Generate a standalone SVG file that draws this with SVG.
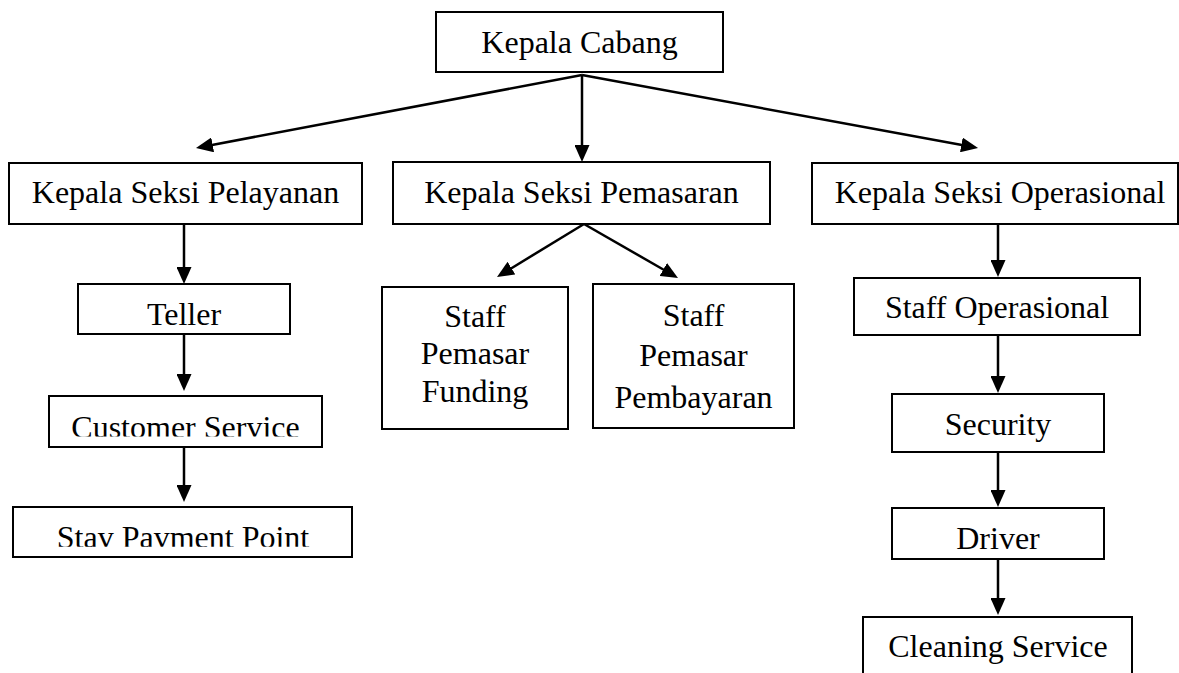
<svg xmlns="http://www.w3.org/2000/svg" width="1179" height="673" viewBox="0 0 1179 673">
<style>
.box{fill:#fff;stroke:#000;stroke-width:2}
.t{font-family:"Liberation Serif","Times New Roman",serif;font-size:32px;fill:#000;text-anchor:middle}
.c{fill:none;stroke:#000;stroke-width:2.5}
</style>
<defs>
<marker id="ah" viewBox="0 0 17 15" refX="2" refY="7.5" markerWidth="17" markerHeight="15" markerUnits="userSpaceOnUse" orient="auto">
<path d="M0,0 L17,7.5 L0,15 z" fill="#000"/>
</marker>
<clipPath id="clipCS"><rect x="49" y="396" width="273" height="40.5"/></clipPath>
<clipPath id="clipSP"><rect x="13" y="507" width="339" height="39.7"/></clipPath>
</defs>
<rect width="1179" height="673" fill="#fff"/>
<g id="connectors">
<path class="c" d="M582,75 L210.7,145.2" marker-end="url(#ah)"/>
<path class="c" d="M582,75 L582,147" marker-end="url(#ah)"/>
<path class="c" d="M582,75 L963.3,145.3" marker-end="url(#ah)"/>
<path class="c" d="M184,224 L184,269" marker-end="url(#ah)"/>
<path class="c" d="M184,334 L184,376" marker-end="url(#ah)"/>
<path class="c" d="M184,447 L184,487" marker-end="url(#ah)"/>
<path class="c" d="M584,224 L509.8,269.2" marker-end="url(#ah)"/>
<path class="c" d="M584,224 L665,270.5" marker-end="url(#ah)"/>
<path class="c" d="M998,224 L998,262" marker-end="url(#ah)"/>
<path class="c" d="M998,335 L998,378" marker-end="url(#ah)"/>
<path class="c" d="M998,452 L998,492" marker-end="url(#ah)"/>
<path class="c" d="M998,559 L998,600" marker-end="url(#ah)"/>
</g>
<g id="kepala-cabang">
<rect class="box" x="436" y="12" width="287" height="60"/>
<text class="t" x="579.5" y="53">Kepala Cabang</text>
</g>
<g id="ks-pelayanan">
<rect class="box" x="9" y="163" width="353" height="61"/>
<text class="t" x="185.5" y="203">Kepala Seksi Pelayanan</text>
</g>
<g id="ks-pemasaran">
<rect class="box" x="393" y="162" width="377" height="62"/>
<text class="t" x="581.5" y="203">Kepala Seksi Pemasaran</text>
</g>
<g id="ks-operasional">
<rect class="box" x="812" y="163" width="366" height="61"/>
<text class="t" x="1000" y="203">Kepala Seksi Operasional</text>
</g>
<g id="teller">
<rect class="box" x="78" y="284" width="212" height="50"/>
<text class="t" x="184" y="325">Teller</text>
</g>
<g id="customer-service">
<rect class="box" x="49" y="396" width="273" height="51"/>
<text class="t" x="185.5" y="438" clip-path="url(#clipCS)">Customer Service</text>
</g>
<g id="stay-payment-point">
<rect class="box" x="13" y="507" width="339" height="50"/>
<text class="t" x="183" y="548" clip-path="url(#clipSP)">Stav Pavment Point</text>
</g>
<g id="staff-pemasar-funding">
<rect class="box" x="382" y="287" width="186" height="142"/>
<text class="t" x="475" y="327">Staff</text>
<text class="t" x="475" y="364">Pemasar</text>
<text class="t" x="475" y="402">Funding</text>
</g>
<g id="staff-pemasar-pembayaran">
<rect class="box" x="593" y="284" width="201" height="144"/>
<text class="t" x="693.5" y="326">Staff</text>
<text class="t" x="693.5" y="366">Pemasar</text>
<text class="t" x="693.5" y="408">Pembayaran</text>
</g>
<g id="staff-operasional">
<rect class="box" x="854" y="278" width="286" height="57"/>
<text class="t" x="997" y="318">Staff Operasional</text>
</g>
<g id="security">
<rect class="box" x="892" y="394" width="212" height="58"/>
<text class="t" x="998" y="435">Security</text>
</g>
<g id="driver">
<rect class="box" x="892" y="508" width="212" height="51"/>
<text class="t" x="998" y="549">Driver</text>
</g>
<g id="cleaning-service">
<rect class="box" x="863" y="617" width="269" height="70"/>
<text class="t" x="998" y="657">Cleaning Service</text>
</g>
</svg>
